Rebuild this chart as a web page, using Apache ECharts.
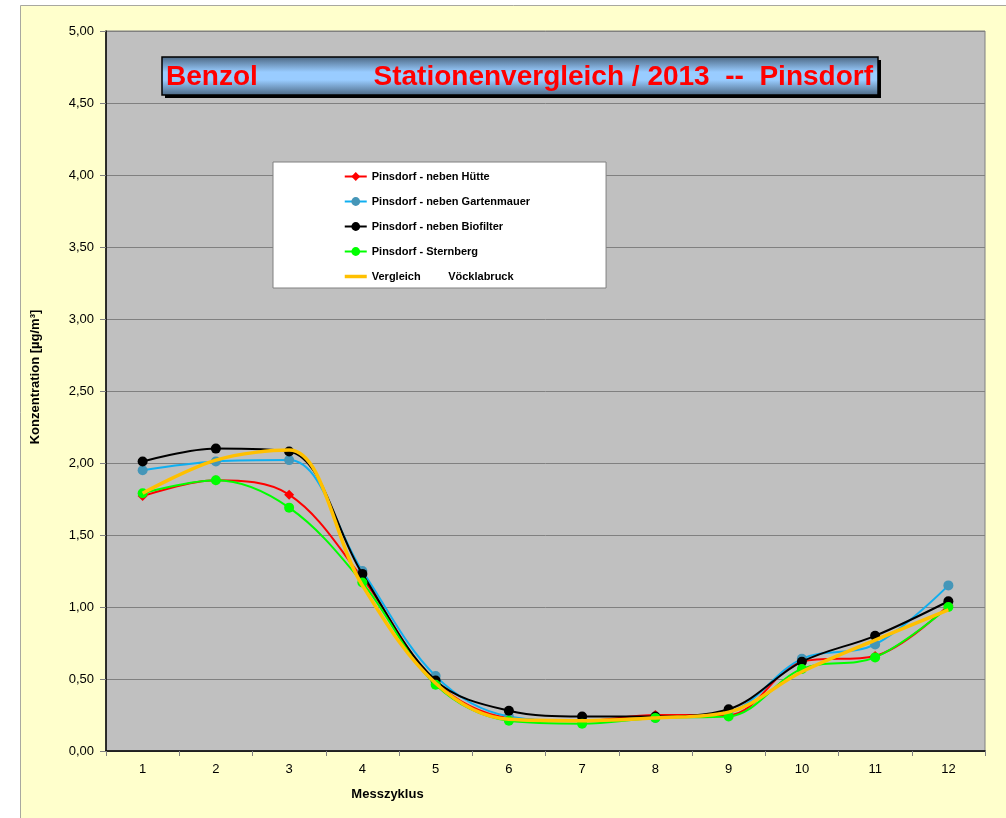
<!DOCTYPE html>
<html>
<head>
<meta charset="utf-8">
<script src="https://cdn.jsdelivr.net/npm/echarts@6/dist/echarts.min.js"></script>
<style>
html,body{margin:0;padding:0;background:#fff;}
#chart{width:1006px;height:818px;}
</style>
</head>
<body>
<div id="chart"></div>
<script>
var categories = ['1','2','3','4','5','6','7','8','9','10','11','12'];
var huette      = [1.77, 1.88, 1.78, 1.20, 0.48, 0.23, 0.21, 0.25, 0.25, 0.62, 0.66, 1.01];
var gartenmauer = [1.95, 2.01, 2.02, 1.25, 0.52, 0.24, 0.21, 0.23, 0.27, 0.64, 0.74, 1.15];
var biofilter   = [2.01, 2.10, 2.08, 1.23, 0.49, 0.28, 0.24, 0.24, 0.29, 0.62, 0.80, 1.04];
var sternberg   = [1.79, 1.88, 1.69, 1.17, 0.46, 0.21, 0.19, 0.23, 0.24, 0.57, 0.65, 1.00];
var voecklabruck= [1.79, 2.02, 2.09, 1.15, 0.47, 0.22, 0.21, 0.23, 0.27, 0.55, 0.77, 0.98];
var seriesNames = ['Pinsdorf - neben Hütte','Pinsdorf - neben Gartenmauer','Pinsdorf - neben Biofilter','Pinsdorf - Sternberg','Vergleich         Vöcklabruck'];
var yTicks = [0,0.5,1,1.5,2,2.5,3,3.5,4,4.5,5];

var FONT = 'Arial, "Liberation Sans", sans-serif';
var chart = echarts.init(document.getElementById('chart'));
function fmt(v){return v.toFixed(2).replace('.',',');}
var SM = 0.35;
var option = {
  animation:false,
  backgroundColor:'#ffffff',
  textStyle:{fontFamily:FONT},
  graphic:[
    {type:'rect', z:-10, shape:{x:20.5,y:5.5,width:990,height:820}, style:{fill:'#ffffcc',stroke:'#a8a8a0',lineWidth:1}, silent:true},
    {type:'group', z:100, children:[
      {type:'rect', shape:{x:165,y:60,width:716,height:38}, style:{fill:'#000'}},
      {type:'rect', shape:{x:162,y:57,width:716,height:38}, style:{
        fill:new echarts.graphic.LinearGradient(0,0,0,1,[
          {offset:0,color:'#4a6580'},{offset:0.4,color:'#99ccff'},{offset:0.6,color:'#99ccff'},{offset:1,color:'#4a6580'}]),
        stroke:'#000',lineWidth:1.5}},
      {type:'text', x:166, y:77, style:{text:'Benzol', fill:'#ff0000', font:'bold 28px '+FONT, textVerticalAlign:'middle', textAlign:'left'}},
      {type:'text', x:873, y:77, style:{text:'Stationenvergleich / 2013  --  Pinsdorf', fill:'#ff0000', font:'bold 28px '+FONT, textVerticalAlign:'middle', textAlign:'right'}}
    ]}
  ],
  grid:{left:106,top:31,width:879,height:720,show:true,backgroundColor:'#c0c0c0',borderColor:'#808080',borderWidth:1,containLabel:false},
  legend:{
    orient:'vertical', left:273, top:162,
    backgroundColor:'#ffffff', borderColor:'#808080', borderWidth:1,
    padding:[9,76,6,70], itemGap:14, itemWidth:22, itemHeight:11,
    textStyle:{fontFamily:FONT,fontWeight:'bold',fontSize:11,color:'#000'},
    data:[seriesNames[0],seriesNames[1],seriesNames[2],seriesNames[3],
      {name:seriesNames[4], itemStyle:{color:'rgba(0,0,0,0)',borderWidth:0}, lineStyle:{width:3.5}}]
  },
  xAxis:{
    type:'category', data:categories, boundaryGap:true,
    name:'Messzyklus', nameLocation:'middle', nameGap:37,
    nameTextStyle:{fontFamily:FONT,fontWeight:'bold',fontSize:13,color:'#000',padding:[0,316,0,0]},
    axisLine:{lineStyle:{color:'#000',width:1.5}},
    axisTick:{show:true,length:5,lineStyle:{color:'#808080'}},
    axisLabel:{fontFamily:FONT,fontSize:13,color:'#000',margin:12},
    splitLine:{show:false}
  },
  yAxis:{
    type:'value', min:0, max:5, interval:0.5,
    name:'Konzentration [µg/m³]', nameLocation:'middle', nameGap:64,
    nameTextStyle:{fontFamily:FONT,fontWeight:'bold',fontSize:13,color:'#000',padding:[0,0,0,28]},
    axisLine:{show:true,lineStyle:{color:'#000',width:1.5}},
    axisTick:{show:true,length:6,lineStyle:{color:'#808080'}},
    axisLabel:{fontFamily:FONT,fontSize:13,color:'#000',margin:12,formatter:function(v){return fmt(v);}},
    splitLine:{show:true,lineStyle:{color:'#808080',width:1}}
  },
  series:[
    {name:seriesNames[0],type:'line',data:huette,smooth:SM,symbol:'diamond',symbolSize:10,
     lineStyle:{color:'#ff0000',width:2},itemStyle:{color:'#ff0000'},z:2},
    {name:seriesNames[1],type:'line',data:gartenmauer,smooth:SM,symbol:'circle',symbolSize:10,
     lineStyle:{color:'#10aff0',width:2},itemStyle:{color:'#4596b8'},z:3},
    {name:seriesNames[2],type:'line',data:biofilter,smooth:SM,symbol:'circle',symbolSize:10,
     lineStyle:{color:'#000000',width:2},itemStyle:{color:'#000000'},z:4},
    {name:seriesNames[3],type:'line',data:sternberg,smooth:SM,symbol:'circle',symbolSize:10,
     lineStyle:{color:'#00ff00',width:2},itemStyle:{color:'#00ff00'},z:5},
    {name:seriesNames[4],type:'line',data:voecklabruck,smooth:SM,symbol:'none',
     lineStyle:{color:'#ffc000',width:3.5},itemStyle:{color:'#ffc000'},z:6}
  ]
};
chart.setOption(option);
</script>
</body>
</html>
